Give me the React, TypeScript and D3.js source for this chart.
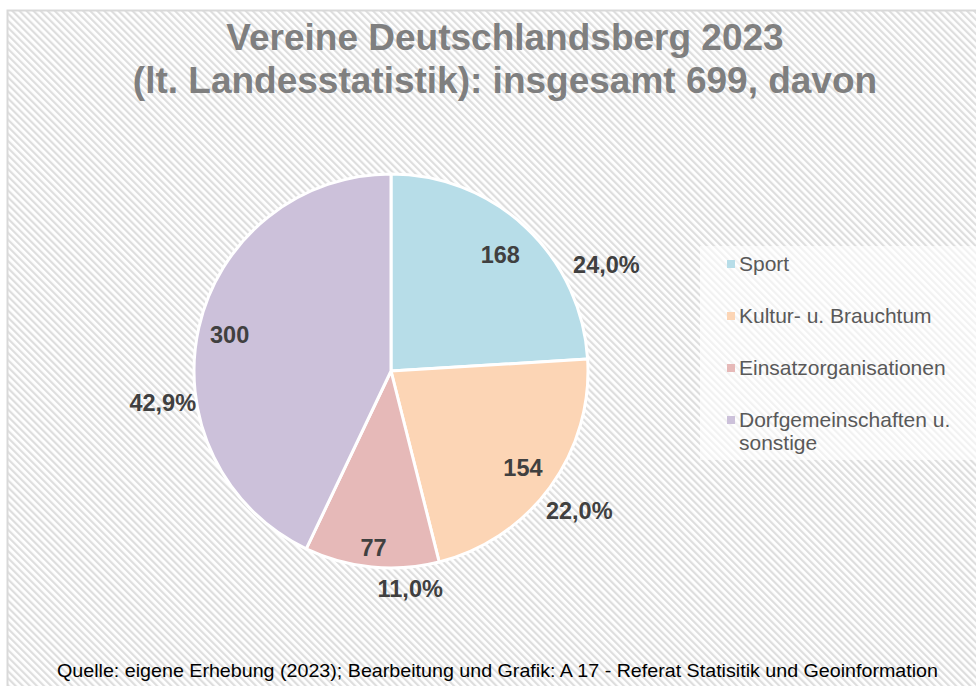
import React from "react";
import * as d3 from "d3";

const categories = ["Sport", "Kultur- u. Brauchtum", "Einsatzorganisationen", "Dorfgemeinschaften u. sonstige"];
const values = [168, 154, 77, 300];
const percentLabels = ["24,0%", "22,0%", "11,0%", "42,9%"];
const colors = ["#b7dde8", "#fcd5b5", "#e6b9b8", "#ccc1da"];
const legendLines = [["Sport"], ["Kultur- u. Brauchtum"], ["Einsatzorganisationen"], ["Dorfgemeinschaften u.", "sonstige"]];
const titleLines = ["Vereine Deutschlandsberg 2023", "(lt. Landesstatistik): insgesamt 699, davon"];
const footer = "Quelle: eigene Erhebung (2023); Bearbeitung und Grafik: A 17 - Referat Statisitik und Geoinformation";

// layout tweaks for labels (degrees offset from slice mid-angle, radius factors)
const pctAngleShift = [20.4, 0.4, -10.7, -20.7];
const pctRadius = [1.22, 1.19, 1.11, 1.17];
const valRadius = [0.81, 0.83, 0.9, 0.84];

export default function App() {
  const W = 976, H = 686;
  const cx = 391, cy = 371, R = 197;
  const pie = d3.pie<number>().sort(null).value((d) => d);
  const arcs = pie(values);
  const arcGen = d3.arc<d3.PieArcDatum<number>>().innerRadius(0).outerRadius(R);
  const polar = (angle: number, r: number) => [Math.sin(angle) * r, -Math.cos(angle) * r];
  const font = "'Liberation Sans', Arial, sans-serif";

  return (
    <svg width={W} height={H} style={{ position: "absolute", left: 0, top: 0, display: "block" }} fontFamily={font}>
      <defs>
        <pattern id="hatch" patternUnits="userSpaceOnUse" width="5" height="5" patternTransform="rotate(-45)">
          <rect width="5" height="5" fill="#ffffff" />
          <rect width="2.2" height="5" fill="#dedede" />
        </pattern>
      </defs>
      <rect x={0} y={0} width={W} height={H} fill="#ffffff" />
      <rect x={7.5} y={10.5} width={W + 10} height={H + 10} fill="url(#hatch)" stroke="#d9d9d9" strokeWidth={2} />
      {titleLines.map((t, i) => (
        <text key={i} x={505} y={50 + i * 43} textAnchor="middle" fontSize={37} fontWeight="bold" fill="#7f7f7f">
          {t}
        </text>
      ))}
      <g transform={`translate(${cx},${cy})`}>
        {arcs.map((a, i) => (
          <path key={i} d={arcGen(a) || ""} fill={colors[i]} stroke="#ffffff" strokeWidth={3} strokeLinejoin="round" />
        ))}
        {arcs.map((a, i) => {
          const mid = (a.startAngle + a.endAngle) / 2;
          const [vx, vy] = polar(mid, R * valRadius[i]);
          const [px, py] = polar(mid + (pctAngleShift[i] * Math.PI) / 180, R * pctRadius[i]);
          return (
            <g key={i} fontSize={23.5} fontWeight="bold" fill="#404040" textAnchor="middle">
              <text x={vx} y={vy} dy="0.35em">{values[i]}</text>
              <text x={px} y={py} dy="0.35em">{percentLabels[i]}</text>
            </g>
          );
        })}
      </g>
      <rect x={700} y={246} width={290} height={214} fill="#ffffff" fillOpacity={0.6} />
      {legendLines.map((lines, i) => (
        <g key={i} transform={`translate(727, ${264 + i * 52})`}>
          <rect x={0} y={-4} width={8} height={8} fill={colors[i]} />
          {lines.map((l, j) => (
            <text key={j} x={12} y={j * 23} dy="0.35em" fontSize={21} fill="#595959">{l}</text>
          ))}
        </g>
      ))}
      <text x={57} y={677} fontSize={19} fill="#000000" textLength={881} lengthAdjust="spacingAndGlyphs">
        {footer}
      </text>
    </svg>
  );
}
